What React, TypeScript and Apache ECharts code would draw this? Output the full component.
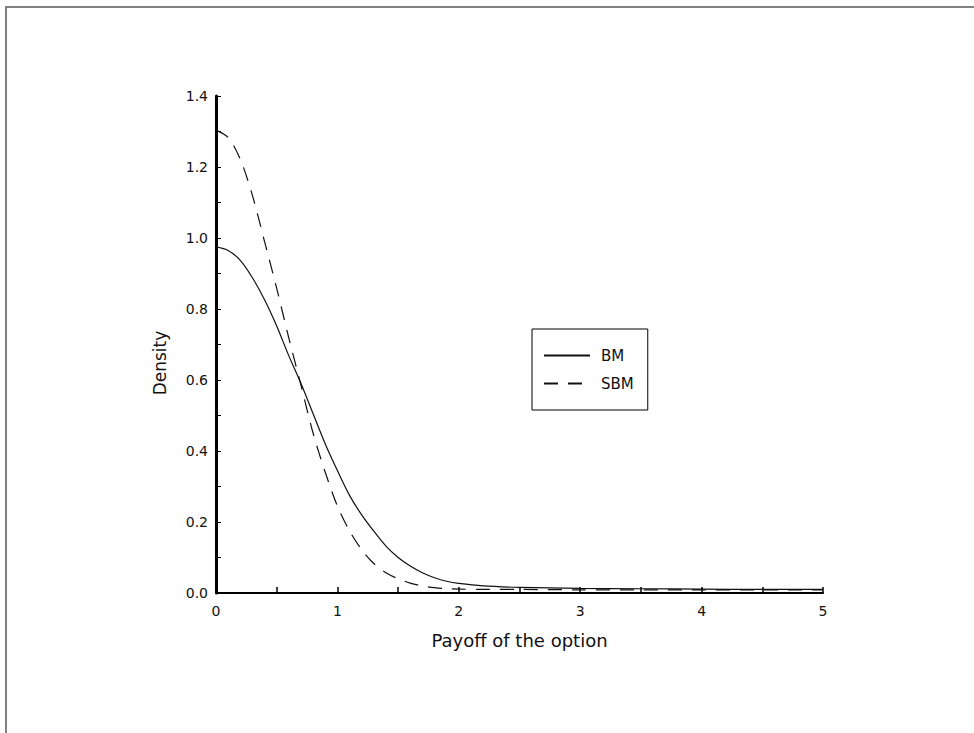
import React, { useEffect, useRef } from "react";
import * as echarts from "echarts";

const payoff = [0, 0.1, 0.2, 0.3, 0.4, 0.5, 0.6, 0.7, 0.8, 0.9, 1.0, 1.1, 1.2, 1.3, 1.4, 1.5, 1.6, 1.7, 1.8, 1.9, 2.0, 2.2, 2.5, 3.0, 3.5, 4.0, 4.5, 5.0];
const bmDensity = [0.975, 0.965, 0.937, 0.888, 0.826, 0.752, 0.668, 0.59, 0.505, 0.42, 0.345, 0.275, 0.22, 0.174, 0.132, 0.1, 0.076, 0.057, 0.043, 0.033, 0.027, 0.02, 0.016, 0.013, 0.012, 0.011, 0.01, 0.01];
const sbmDensity = [1.304, 1.283, 1.222, 1.12, 0.99, 0.858, 0.718, 0.585, 0.45, 0.34, 0.245, 0.175, 0.122, 0.083, 0.057, 0.04, 0.028, 0.02, 0.015, 0.012, 0.011, 0.01, 0.01, 0.009, 0.009, 0.009, 0.009, 0.009];
const seriesNames = ["BM", "SBM"];
const xAxisTitle = "Payoff of the option";
const yAxisTitle = "Density";

export default function App() {
  const ref = useRef<HTMLDivElement>(null);
  useEffect(() => {
    if (!ref.current) return;
    const chart = echarts.init(ref.current, null, { renderer: "svg" });
    const font = "DejaVu Sans";
    chart.setOption({
      animation: false,
      backgroundColor: "#fff",
      graphic: [
        {
          type: "rect",
          shape: { x: 6, y: 7, width: 1200, height: 1000 },
          style: { fill: "none", stroke: "#808080", lineWidth: 2 },
          silent: true,
        },
        {
          type: "text",
          x: 160,
          y: 363,
          rotation: Math.PI / 2,
          style: {
            text: yAxisTitle,
            fontFamily: font,
            fontSize: 17,
            fill: "#111",
            align: "center",
            verticalAlign: "middle",
          },
          silent: true,
        },
      ],
      grid: { left: 216, right: 151, top: 96, bottom: 140 },
      legend: {
        left: 532,
        top: 329,
        orient: "vertical",
        data: seriesNames,
        itemWidth: 46,
        itemHeight: 14,
        itemGap: 13,
        padding: [19, 14, 19, 11],
        borderColor: "#000",
        borderWidth: 1,
        itemStyle: { opacity: 0 },
        textStyle: { fontFamily: font, fontSize: 15, color: "#111", padding: [0, 0, 0, 6] },
      },
      xAxis: {
        type: "value",
        min: 0,
        max: 5,
        interval: 0.5,
        name: xAxisTitle,
        nameLocation: "middle",
        nameGap: 38,
        nameTextStyle: { fontFamily: font, fontSize: 18, color: "#111" },
        axisLine: { lineStyle: { color: "#000", width: 2 } },
        axisTick: { inside: true, length: 6, lineStyle: { color: "#000", width: 1.5 } },
        axisLabel: {
          fontFamily: font,
          fontSize: 14,
          color: "#111",
          margin: 11,
          formatter: (v: number) => (Math.abs(v - Math.round(v)) < 1e-6 ? String(Math.round(v)) : ""),
        },
        splitLine: { show: false },
      },
      yAxis: {
        type: "value",
        min: 0,
        max: 1.4,
        interval: 0.1,
        axisLine: { show: true, lineStyle: { color: "#000", width: 3 } },
        axisTick: { inside: true, length: 5, lineStyle: { color: "#000", width: 1 } },
        axisLabel: {
          fontFamily: font,
          fontSize: 14,
          color: "#111",
          margin: 8,
          formatter: (v: number) => (Math.round(v * 10) % 2 === 0 ? v.toFixed(1) : ""),
        },
        splitLine: { show: false },
      },
      series: [
        {
          name: seriesNames[0],
          type: "line",
          symbol: "none",
          smooth: 0.3,
          data: payoff.map((x, i) => [x, bmDensity[i]]),
          lineStyle: { color: "#111", width: 1.2, type: "solid" },
          itemStyle: { color: "#111" },
        },
        {
          name: seriesNames[1],
          type: "line",
          symbol: "none",
          smooth: 0.3,
          data: payoff.map((x, i) => [x, sbmDensity[i]]),
          lineStyle: { color: "#111", width: 1.2, type: [14, 10] },
          itemStyle: { color: "#111" },
        },
      ],
    });
    return () => chart.dispose();
  }, []);
  return <div ref={ref} style={{ position: "absolute", left: 0, top: 0, width: 974, height: 733 }} />;
}
